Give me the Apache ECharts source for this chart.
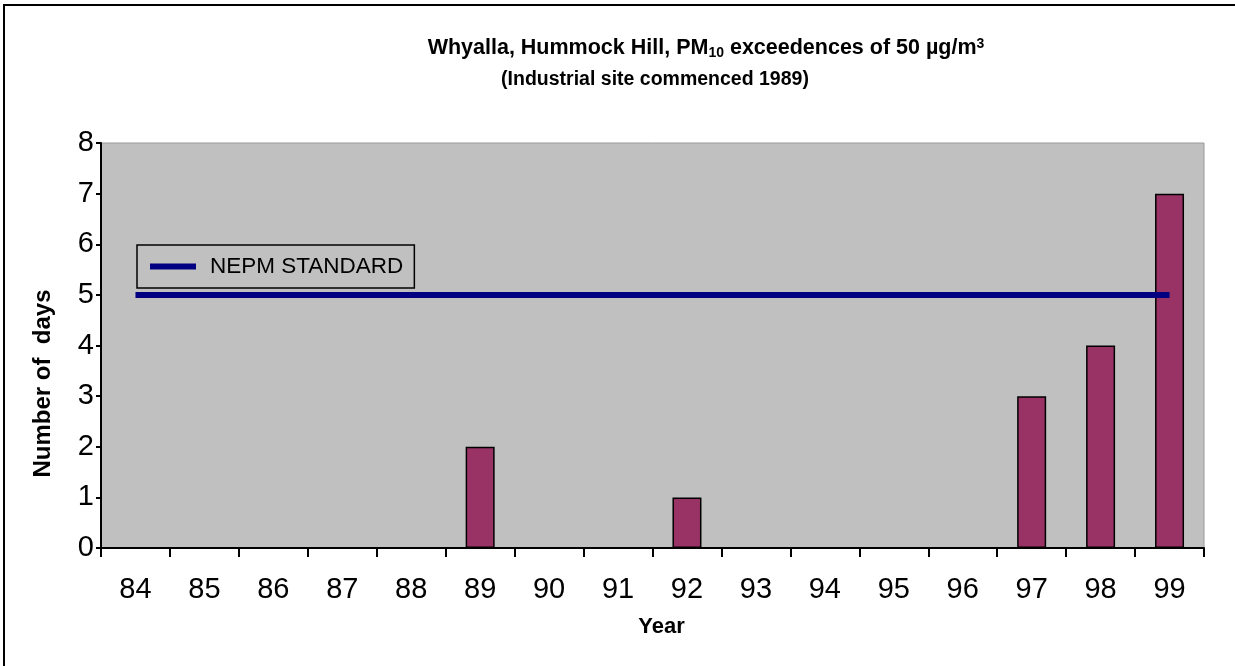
<!DOCTYPE html>
<html>
<head>
<meta charset="utf-8">
<script src="https://cdn.jsdelivr.net/npm/echarts@6/dist/echarts.min.js"></script>
<style>html,body{margin:0;padding:0;background:#fff}#c{width:1235px;height:666px}</style>
</head>
<body>
<div id="c"></div>
<script>
const years = ['84','85','86','87','88','89','90','91','92','93','94','95','96','97','98','99'];
const exceedences = [0,0,0,0,0,2,0,0,1,0,0,0,0,3,4,7];
const nepmStandard = [5,5,5,5,5,5,5,5,5,5,5,5,5,5,5,5];
const yTicks = { min: 0, max: 8, interval: 1 };

const FONT = '"Liberation Sans", Arial, sans-serif';
const chart = echarts.init(document.getElementById('c'), null, { renderer: 'canvas' });
chart.setOption({
  backgroundColor: '#ffffff',
  animation: false,
  textStyle: { fontFamily: FONT },
  title: [
    {
      text: 'Whyalla, Hummock Hill, PM{sub|10} exceedences of 50 \u00b5g/m{sup|3}',
      left: 701, top: 32, textAlign: 'center',
      textStyle: {
        fontFamily: FONT, fontSize: 21.5, fontWeight: 'bold', color: '#000',
        rich: {
          sub: { fontFamily: FONT, fontSize: 14, fontWeight: 'bold', color: '#000', padding: [9, 0, 0, 0] },
          sup: { fontFamily: FONT, fontSize: 14, fontWeight: 'bold', color: '#000', padding: [0, 0, 9, 0] }
        }
      }
    },
    {
      text: '(Industrial site commenced 1989)',
      left: 650, top: 65, textAlign: 'center',
      textStyle: { fontFamily: FONT, fontSize: 19.5, fontWeight: 'bold', color: '#000' }
    }
  ],
  graphic: [
    {
      type: 'rect', silent: true, z: 100,
      shape: { x: 4, y: 5, width: 1400, height: 800 },
      style: { fill: 'none', stroke: '#000', lineWidth: 2 }
    }
  ],
  legend: {
    data: ['NEPM STANDARD'],
    left: 137, top: 245,
    orient: 'horizontal',
    icon: 'rect',
    itemWidth: 46, itemHeight: 6,
    padding: [10, 11, 10, 13],
    borderColor: '#000', borderWidth: 1.5,
    backgroundColor: 'transparent',
    textStyle: { fontFamily: FONT, fontSize: 22.5, color: '#000', padding: [0, 0, 0, 9] }
  },
  grid: {
    left: 101, right: 31, top: 143, bottom: 118,
    show: true, backgroundColor: '#C0C0C0', borderColor: '#9a9a9a', borderWidth: 1,
    containLabel: false
  },
  xAxis: {
    type: 'category',
    data: years,
    boundaryGap: true,
    name: 'Year',
    nameLocation: 'middle',
    nameGap: 68,
    nameTextStyle: { fontFamily: FONT, fontSize: 22, fontWeight: 'bold', color: '#000', padding: [0, 0, 0, 18] },
    axisLine: { show: true, lineStyle: { color: '#000', width: 2 } },
    axisTick: { show: true, alignWithLabel: false, length: 9, lineStyle: { color: '#000', width: 2 } },
    axisLabel: { fontFamily: FONT, fontSize: 29, color: '#000', margin: 27 },
    splitLine: { show: false }
  },
  yAxis: {
    type: 'value',
    min: yTicks.min, max: yTicks.max, interval: yTicks.interval,
    name: 'Number of  days',
    nameLocation: 'middle',
    nameGap: 46,
    nameRotate: 90,
    nameTextStyle: { fontFamily: FONT, fontSize: 24, fontWeight: 'bold', color: '#000', padding: [0, 76, 0, 0] },
    axisLine: { show: true, lineStyle: { color: '#000', width: 2 } },
    axisTick: { show: true, length: 5, lineStyle: { color: '#000', width: 2 } },
    axisLabel: { fontFamily: FONT, fontSize: 29, color: '#000', margin: 7 },
    splitLine: { show: false }
  },
  series: [
    {
      name: 'Exceedences',
      type: 'bar',
      data: exceedences,
      barWidth: 29,
      itemStyle: { color: '#993366', borderColor: '#000', borderWidth: 1.5 },
      z: 2
    },
    {
      name: 'NEPM STANDARD',
      type: 'line',
      data: nepmStandard,
      symbol: 'none',
      lineStyle: { color: '#000080', width: 6, cap: 'butt' },
      itemStyle: { color: '#000080' },
      z: 3
    }
  ]
});
</script>
</body>
</html>
